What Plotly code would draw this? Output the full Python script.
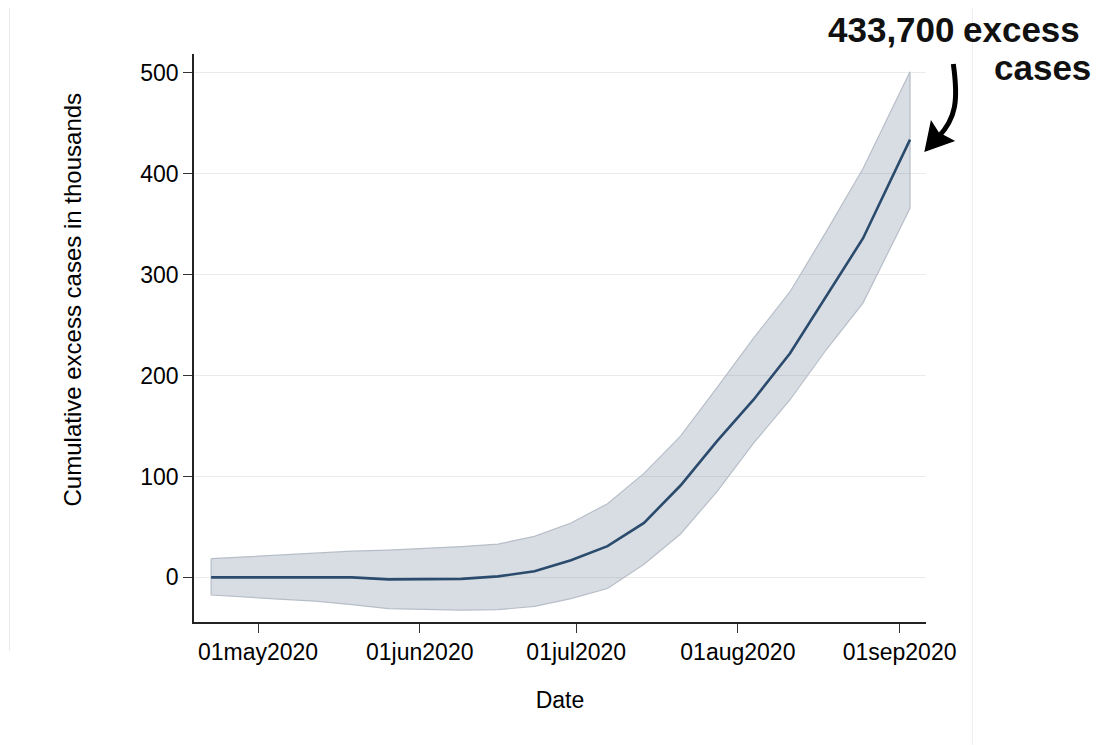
import plotly.graph_objects as go

# ---- data ----
dates = ["2020-04-22", "2020-04-28", "2020-05-05", "2020-05-12", "2020-05-19",
         "2020-05-26", "2020-06-02", "2020-06-09", "2020-06-16", "2020-06-23",
         "2020-06-30", "2020-07-07", "2020-07-14", "2020-07-21", "2020-07-28",
         "2020-08-04", "2020-08-11", "2020-08-18", "2020-08-25", "2020-09-03"]
central = [0, 0, 0, 0, 0, -2, -2, -1.5, 1, 6, 17, 31, 54, 91, 135, 176, 222, 279, 336, 433.7]
upper = [18.5, 20.3, 22.3, 24.3, 26, 27, 28.5, 30.5, 33, 40.6, 53.9, 73, 103, 140, 188, 237, 283, 343, 405, 501]
lower = [-17.5, -19.5, -21.5, -23.5, -27, -31, -32, -32.5, -32, -28.7, -21, -11, 13, 43, 85, 133, 176, 226, 272, 365.6]

tick_vals_x = ["2020-05-01", "2020-06-01", "2020-07-01", "2020-08-01", "2020-09-01"]
tick_text_x = ["01may2020", "01jun2020", "01jul2020", "01aug2020", "01sep2020"]
tick_vals_y = [0, 100, 200, 300, 400, 500]

# page has an 8px body margin; build the figure so the page matches 1101x745
OFF = 8
W, H = 1101 - OFF, 745 - OFF
# plot area in page pixels
L, R, T, B = 194.3, 925.7, 54.0, 622.3
Lf, Rf, Tf, Bf = L - OFF, R - OFF, T - OFF, B - OFF


def px(x):
    return (x - L) / (R - L)


def py(y):
    return (B - y) / (B - T)


FONT = "Liberation Sans, Arial, Helvetica, sans-serif"

fig = go.Figure()

# confidence band as closed polygon
fig.add_trace(go.Scatter(
    x=dates + dates[::-1] + [dates[0]],
    y=upper + lower[::-1] + [upper[0]],
    mode="lines",
    fill="toself",
    fillcolor="rgba(60,85,120,0.2)",
    line=dict(color="#b7bec8", width=1.2),
    hoverinfo="skip",
    showlegend=False,
))

fig.add_trace(go.Scatter(
    x=dates, y=central, mode="lines",
    line=dict(color="#2b4b6d", width=2.6),
    showlegend=False,
))

fig.update_layout(
    width=W, height=H,
    margin=dict(l=Lf, r=W - Rf, t=Tf, b=H - Bf, pad=0),
    plot_bgcolor="white", paper_bgcolor="white",
    font=dict(family=FONT, size=23, color="#000"),
    showlegend=False,
)

fig.update_xaxes(
    range=["2020-04-18 17:15", "2020-09-06 01:35"],
    tickvals=tick_vals_x, ticktext=tick_text_x,
    ticks="outside", ticklen=9, tickwidth=1.2, tickcolor="#333",
    showline=True, linecolor="#222", linewidth=1.5,
    showgrid=False, zeroline=False,
    tickfont=dict(size=23, family=FONT, color="#000"),
    title=dict(text="Date", font=dict(size=23, family=FONT, color="#000"), standoff=28),
)
fig.update_yaxes(
    range=[-44.2, 518.5],
    tickvals=tick_vals_y,
    ticks="outside", ticklen=9, tickwidth=1.2, tickcolor="#333",
    showline=True, linecolor="#222", linewidth=1.5,
    showgrid=True, gridcolor="#ebebeb", gridwidth=1.2, zeroline=False,
    tickfont=dict(size=23, family=FONT, color="#000"),
)

# y-axis title (placed like the reference, above plot centre)
fig.add_annotation(xref="paper", yref="paper", x=px(73), y=py(300),
                   xanchor="center", yanchor="middle", showarrow=False,
                   textangle=-90, text="Cumulative excess cases in thousands",
                   font=dict(size=24, family=FONT, color="#000"))

# faint outer panel border
border = "#ececec"
fig.add_shape(type="line", xref="paper", yref="paper",
              x0=px(10), y0=py(5), x1=px(972), y1=py(5), line=dict(color=border, width=1))
fig.add_shape(type="line", xref="paper", yref="paper",
              x0=px(10), y0=py(5), x1=px(10), y1=py(651), line=dict(color=border, width=1))
fig.add_shape(type="line", xref="paper", yref="paper",
              x0=px(972), y0=py(5), x1=px(972), y1=py(745), line=dict(color=border, width=1))

# annotation text
afont = dict(size=35, family=FONT, color="#111")
fig.add_annotation(xref="paper", yref="paper", x=px(956), y=py(29),
                   xanchor="right", yanchor="middle", showarrow=False,
                   text="<b>433,700</b>", font=afont, borderpad=0)
fig.add_annotation(xref="paper", yref="paper", x=px(962), y=py(29),
                   xanchor="left", yanchor="middle", showarrow=False,
                   text="<b>excess</b>", font=afont, borderpad=0)
fig.add_annotation(xref="paper", yref="paper", x=px(1042), y=py(68),
                   xanchor="center", yanchor="middle", showarrow=False,
                   text="<b>cases</b>", font=afont, borderpad=0)


# curved hand-drawn arrow
def pt(x, y):
    return f"{px(x):.5f},{py(y):.5f}"


stem = f"M {pt(953,64)} C {pt(958,100)} {pt(956,118)} {pt(938,137)}"
fig.add_shape(type="path", xref="paper", yref="paper", path=stem,
              line=dict(color="black", width=5))
head = f"M {pt(925,151)} L {pt(931,122)} L {pt(938,133)} L {pt(953,141)} Z"
fig.add_shape(type="path", xref="paper", yref="paper", path=head,
              fillcolor="black", line=dict(color="black", width=1.5))

fig.write_html("out.html")
